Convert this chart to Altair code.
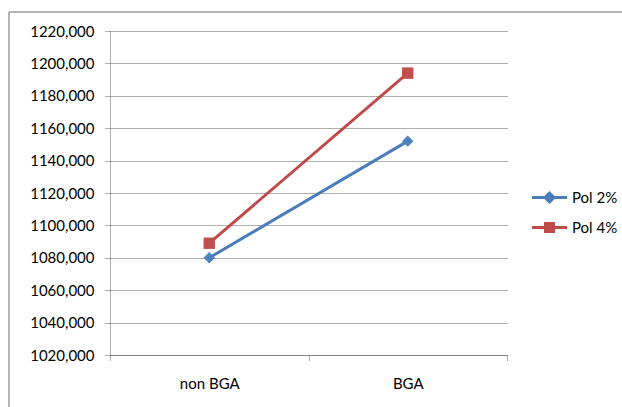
import altair as alt
import pandas as pd

# Category axis and series values
categories = ["non BGA", "BGA"]
series_names = ["Pol 2%", "Pol 4%"]
pol_2 = [1080.0, 1152.0]
pol_4 = [1089.0, 1194.0]

# Axis tick values
y_ticks = [1020, 1040, 1060, 1080, 1100, 1120, 1140, 1160, 1180, 1200, 1220]

line_colors = ["#4A7EBB", "#BE4B48"]
marker_colors = ["#4F81BD", "#C0504D"]

rows = []
for name, vals in zip(series_names, [pol_2, pol_4]):
    for cat, v in zip(categories, vals):
        rows.append({"kategori": cat, "seri": name, "nilai": v})
df = pd.DataFrame(rows)

FONT = "Lato"
GRID = "#5f5f5f"

x_enc = alt.X(
    "kategori:N",
    sort=categories,
    scale=alt.Scale(paddingInner=0, paddingOuter=0),
    axis=alt.Axis(
        title=None,
        labelAngle=0,
        tickBand="extent",
        domainColor=GRID,
        domainDash=[1, 1],
        tickColor=GRID,
        tickDash=[1, 1],
        tickSize=5,
        labelPadding=16,
        labelFont=FONT,
        labelFontSize=15,
        labelColor="#000000",
        grid=False,
    ),
)

y_enc = alt.Y(
    "nilai:Q",
    scale=alt.Scale(domain=[1020, 1220], nice=False, zero=False),
    axis=alt.Axis(
        title=None,
        values=y_ticks,
        labelExpr="replace(format(datum.value, '.3f'), '.', ',')",
        grid=True,
        gridColor=GRID,
        gridDash=[1, 1],
        domainColor=GRID,
        domainDash=[1, 1],
        tickColor=GRID,
        tickDash=[1, 1],
        tickSize=5,
        labelPadding=11,
        labelFont=FONT,
        labelFontSize=15,
        labelColor="#000000",
    ),
)

# Legend symbols: a short line through the series marker
p2_path = "M-1.75,0H1.75M0,-0.45L0.45,0L0,0.45L-0.45,0Z"
p4_path = "M-1.75,0H1.75M-0.4,-0.4H0.4V0.4H-0.4Z"
shape_expr = f"datum.value === 'Pol 2%' ? '{p2_path}' : '{p4_path}'"
fill_expr = f"datum.value === 'Pol 2%' ? '{marker_colors[0]}' : '{marker_colors[1]}'"

color_scale = alt.Scale(domain=series_names, range=line_colors)

lines = alt.Chart(df).mark_line(strokeWidth=3).encode(
    x=x_enc,
    y=y_enc,
    color=alt.Color(
        "seri:N",
        scale=color_scale,
        legend=alt.Legend(
            title=None,
            orient="none",
            legendX=428,
            legendY=155,
            symbolSize=400,
            symbolStrokeWidth=3,
            symbolType=alt.ExprRef(shape_expr),
            symbolFillColor=alt.ExprRef(fill_expr),
            labelOffset=11,
            rowPadding=8,
            padding=0,
            labelFont=FONT,
            labelFontSize=15,
            labelColor="#000000",
        ),
    ),
    detail="seri:N",
)

points = alt.Chart(df).mark_point(filled=True, opacity=1, size=130).encode(
    x=x_enc,
    y=y_enc,
    color=alt.Color(
        "seri:N",
        scale=alt.Scale(domain=series_names, range=marker_colors),
        legend=None,
    ),
    shape=alt.Shape(
        "seri:N",
        scale=alt.Scale(domain=series_names, range=["diamond", "square"]),
        legend=None,
    ),
)

# Outer chart frame (open to the right and bottom edges of the page)
frame = alt.Chart(alt.Data(values=[{}])).mark_rect(
    fill=None, stroke="#6f6f6f", strokeWidth=1
).encode(
    x=alt.value(-101), x2=alt.value(700),
    y=alt.value(-19), y2=alt.value(500),
)

chart = (
    alt.layer(frame, lines, points)
    .resolve_scale(color="independent")
    .properties(
        width=397,
        height=324,
        padding={"left": 110, "top": 31, "right": 115, "bottom": 52},
        autosize=alt.AutoSizeParams(type="none"),
        background="#ffffff",
    )
    .configure_view(stroke=None)
)

chart.save("out.html", embed_options={"renderer": "svg", "actions": False})
